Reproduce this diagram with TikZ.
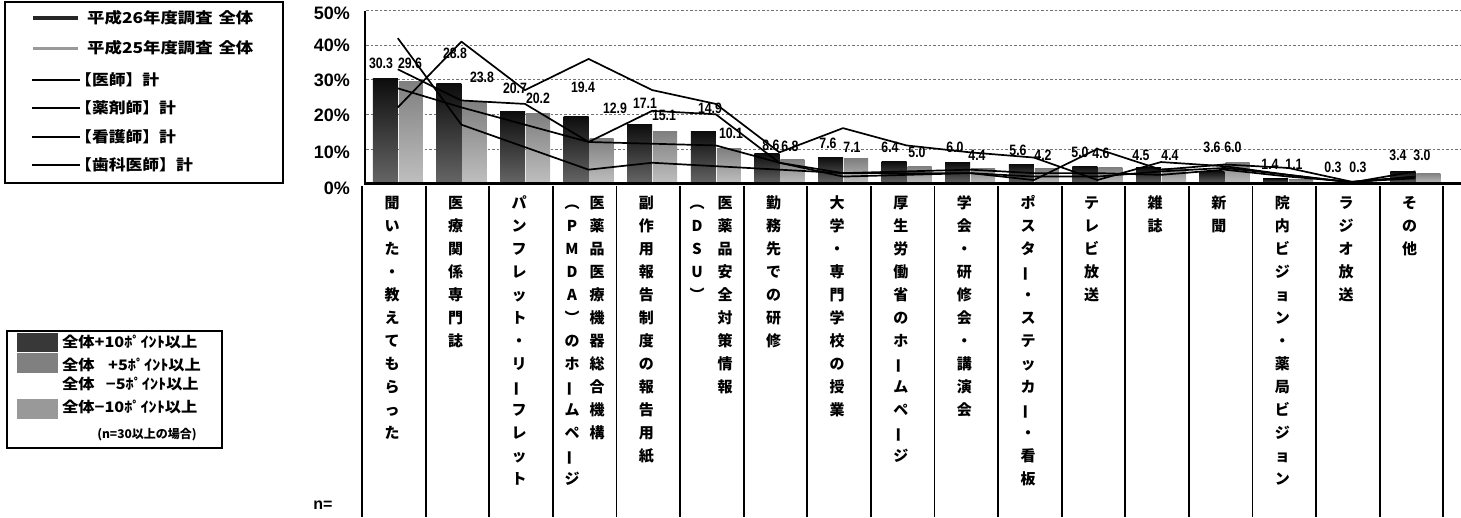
\documentclass[tikz,border=0pt]{standalone}
\usepackage{fontspec}
\usepackage{graphicx}
\setmainfont{Liberation Sans}
\newfontfamily\jp{Noto Sans CJK JP}
\newcommand\vbar{\rotatebox[origin=c]{90}{ー}}
\tikzset{
  gridln/.style={black!55, line width=0.6pt, dash pattern=on 2.5pt off 2pt},
  darkbar/.style={top color=black!95, bottom color=black!60},
  lightbar/.style={top color=black!50, bottom color=black!25},
  seriesline/.style={black, line width=1.7pt, line join=round},
  vlbl/.style={font=\fontsize{15}{15}\selectfont\bfseries, inner sep=0pt},
  axlbl/.style={font=\fontsize{18}{18}\selectfont\bfseries, anchor=east, inner sep=0pt},
  catch/.style={font=\jp\bfseries\fontsize{15}{15}\selectfont, inner sep=0pt, text height=11.5pt, text depth=2pt},
  divider/.style={black, line width=1.8pt},
  legtext/.style={font=\jp\bfseries\fontsize{15}{15}\selectfont, anchor=west, inner sep=0pt},
  legtextb/.style={font=\jp\bfseries\fontsize{14.5}{14.5}\selectfont, anchor=west, inner sep=0pt},
  framebox/.style={draw=black, line width=1.8pt},
}
\newcommand\vcol[3]{%
  \foreach \ch [count=\j] in {#3} {\node[catch] (#2-\j) at (#1, {204+23*(\j-1)}) {\ch};}}
\begin{document}
\begin{tikzpicture}[x=1pt,y=-1pt]
\useasboundingbox (0,0) rectangle (1461,517);
\fill[white] (0,0) rectangle (1461,517);

% gridlines
\foreach \p in {10,20,30,40,50} {
  \draw[gridln] (366,{183.5-3.46*\p}) -- (1461,{183.5-3.46*\p});
}
% y labels
\node[axlbl] (y50) at (350,13) {50\%};
\node[axlbl] (y40) at (350,45) {40\%};
\node[axlbl] (y30) at (350,80) {30\%};
\node[axlbl] (y20) at (350,115) {20\%};
\node[axlbl] (y10) at (350,152) {10\%};
\node[axlbl] (y0) at (350,188) {0\%};

% bars
\foreach \d [count=\i] in {30.3,28.8,20.7,19.4,17.1,14.9,8.6,7.6,6.4,6.0,5.6,5.0,4.5,3.6,1.4,0.3,3.4} {
  \pgfmathsetmacro\cx{397.8+63.6*(\i-1)}
  \pgfmathsetmacro\ty{183.5-3.46*\d}
  \path[darkbar] (\cx-25,183.5) rectangle (\cx,\ty);
}
\foreach \d [count=\i] in {29.6,23.8,20.2,12.9,15.1,10.1,6.8,7.1,5.0,4.4,4.2,4.6,4.4,6.0,1.1,0.3,3.0} {
  \pgfmathsetmacro\cx{397.8+63.6*(\i-1)}
  \pgfmathsetmacro\ty{183.5-3.46*\d}
  \path[lightbar] (\cx+1,183.5) rectangle (\cx+25,\ty);
}

% series lines
\foreach \v [count=\i] in {42,17,10.5,4,6,5,4,3,3.5,4,3,3,2.5,4,2,0.5,2}
  {\coordinate (A\i) at ({397.8+63.6*(\i-1)},{183.5-3.46*\v});}
\foreach \v [count=\i] in {22,41,27,36,27,23,9,16,11,9,7.5,1,6.2,5,2.5,0.3,3.5}
  {\coordinate (B\i) at ({397.8+63.6*(\i-1)},{183.5-3.46*\v});}
\foreach \v [count=\i] in {33,24,23,12,21,20,6,2,2.5,3,1,10,4,5.5,4.5,0.5,1.5}
  {\coordinate (C\i) at ({397.8+63.6*(\i-1)},{183.5-3.46*\v});}
\foreach \v [count=\i] in {27.5,22,17,12,11.5,11,6,3,3,3,2,2,3.5,4.5,2.5,0.3,2}
  {\coordinate (D\i) at ({397.8+63.6*(\i-1)},{183.5-3.46*\v});}
\foreach \s in {A,B,C,D} {
  \draw[seriesline] (\s1) \foreach \i in {2,...,17} { -- (\s\i) };
}

% value labels
\foreach \lab/\x/\y [count=\i] in {30.3/381/63, 29.6/410/63, 28.8/455/53, 23.8/482/77,
  20.7/515/88, 20.2/538/98, 19.4/583/87, 12.9/615/108, 17.1/645/103, 15.1/664/115,
  14.9/710/108, 10.1/731/133, 8.6/771/145, 6.8/790/146, 7.6/828/143, 7.1/852/147,
  6.4/890/147, 5.0/917/152, 6.0/955/147, 4.4/977/155, 5.6/1018/150, 4.2/1043/155,
  5.0/1080/152, 4.6/1101/153, 4.5/1141/155, 4.4/1170/155, 3.6/1212/147, 6.0/1233/147,
  1.4/1270/164, 1.1/1294/164, 0.3/1333/167, 0.3/1358/167, 3.4/1398/155, 3.0/1422/155} {
  \node[vlbl] (v\i) at (\x,\y) {\scalebox{0.82}[1]{\lab}};
}

% axes
\draw[black, line width=2pt] (365,10.5) -- (365,184.5);
\draw[black, line width=2.2pt] (364,183.5) -- (1461,183.5);

% table dividers
\foreach \k in {0,...,17} {
  \draw[divider] ({362+63.6*\k},186) -- ({362+63.6*\k},517);
}

% category texts
\vcol{392}{k1}{聞,い,た,・,教,え,て,も,ら,っ,た}
\vcol{455.6}{k2}{医,療,関,係,専,門,誌}
\vcol{519.2}{k3}{パ,ン,フ,レ,ッ,ト,・,リ,\vbar,フ,レ,ッ,ト}
\vcol{597}{k4r}{医,薬,品,医,療,機,器,総,合,機,構}
\vcol{572}{k4l}{︵,P,M,D,A,︶,の,ホ,\vbar,ム,ペ,\vbar,ジ}
\vcol{646.4}{k5}{副,作,用,報,告,制,度,の,報,告,用,紙}
\vcol{725}{k6r}{医,薬,品,安,全,対,策,情,報}
\vcol{697}{k6l}{︵,D,S,U,︶}
\vcol{773.6}{k7}{勤,務,先,で,の,研,修}
\vcol{837.2}{k8}{大,学,・,専,門,学,校,の,授,業}
\vcol{900.8}{k9}{厚,生,労,働,省,の,ホ,\vbar,ム,ペ,\vbar,ジ}
\vcol{964.4}{k10}{学,会,・,研,修,会,・,講,演,会}
\vcol{1028}{k11}{ポ,ス,タ,\vbar,・,ス,テ,ッ,カ,\vbar,・,看,板}
\vcol{1091.6}{k12}{テ,レ,ビ,放,送}
\vcol{1155.2}{k13}{雑,誌}
\vcol{1218.8}{k14}{新,聞}
\vcol{1282.4}{k15}{院,内,ビ,ジ,ョ,ン,・,薬,局,ビ,ジ,ョ,ン}
\vcol{1346}{k16}{ラ,ジ,オ,放,送}
\vcol{1409.6}{k17}{そ,の,他}

\node[font=\fontsize{16}{16}\selectfont\bfseries, inner sep=0pt] (nlbl) at (323,505) {n=};

% legend 1
\draw[framebox] (5,2) rectangle (283,183);
\draw[black!85, line width=4.5pt] (33,18) -- (78,18);
\draw[black!40, line width=3pt] (33,48) -- (78,48);
\draw[black, line width=2pt] (32,80) -- (80,80);
\draw[black, line width=2pt] (32,108) -- (80,108);
\draw[black, line width=2pt] (32,137) -- (80,137);
\draw[black, line width=2pt] (32,165) -- (80,165);
\node[legtext] (g1) at (87,18) {\scalebox{1.16}[1]{平成26年度調査\hspace{5pt}全体}};
\node[legtext] (g2) at (87,48) {\scalebox{1.16}[1]{平成25年度調査\hspace{5pt}全体}};
\node[legtext] (g3) at (75,80) {\scalebox{1.12}[1]{【医師】計}};
\node[legtext] (g4) at (75,108) {\scalebox{1.12}[1]{【薬剤師】計}};
\node[legtext] (g5) at (75,137) {\scalebox{1.12}[1]{【看護師】計}};
\node[legtext] (g6) at (75,165) {\scalebox{1.12}[1]{【歯科医師】計}};

% legend 2
\draw[framebox] (7,331) rectangle (222,448);
\fill[black!78] (17,333) rectangle (58,352);
\fill[black!50] (17,353) rectangle (58,373);
\fill[black!40] (17,399) rectangle (58,419);
\node[legtextb] (h1) at (62,342) {\scalebox{1.12}[1]{全体+10ﾎﾟｲﾝﾄ以上}};
\node[legtextb] (h2) at (62,365) {\scalebox{1.12}[1]{全体\hspace{12pt}+5ﾎﾟｲﾝﾄ以上}};
\node[legtextb] (h3) at (62,384) {\scalebox{1.12}[1]{全体\hspace{10pt}−5ﾎﾟｲﾝﾄ以上}};
\node[legtextb] (h4) at (62,407) {\scalebox{1.12}[1]{全体−10ﾎﾟｲﾝﾄ以上}};
\node[font=\jp\bfseries\fontsize{12}{12}\selectfont, inner sep=0pt] (h5) at (147,435) {(n=30以上の場合)};
\end{tikzpicture}
\end{document}
